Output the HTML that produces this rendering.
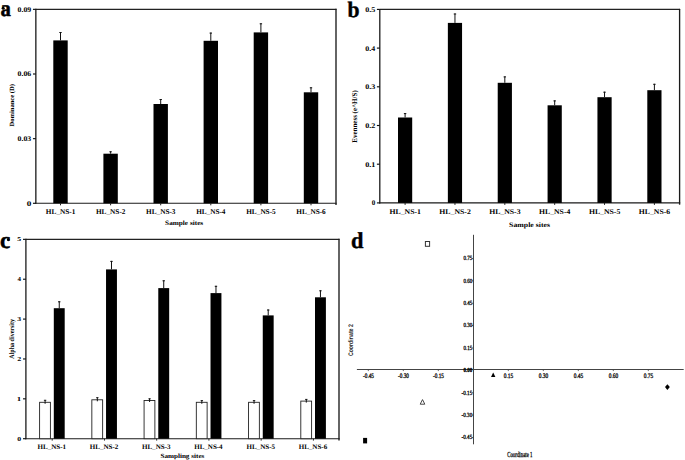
<!DOCTYPE html>
<html><head><meta charset="utf-8"><style>
html,body{margin:0;padding:0;background:#fff;width:685px;height:460px;overflow:hidden;}
svg{display:block;}
</style></head><body>
<svg width="685" height="460" viewBox="0 0 685 460">
<rect width="685" height="460" fill="#fff"/>
<line x1="35.85" y1="9.35" x2="336.50" y2="9.35" stroke="#222" stroke-width="1.1"/>
<line x1="336.00" y1="8.85" x2="336.00" y2="205.10" stroke="#1a1a1a" stroke-width="1.35"/>
<line x1="35.85" y1="8.85" x2="35.85" y2="203.80" stroke="#1a1a1a" stroke-width="1.3"/>
<line x1="35.25" y1="203.30" x2="336.60" y2="203.30" stroke="#1a1a1a" stroke-width="1.1"/>
<line x1="32.95" y1="203.30" x2="35.85" y2="203.30" stroke="#111" stroke-width="1.15"/>
<text x="26.75" y="205.70" font-size="7.22" font-weight="bold" font-family='"Liberation Serif", serif' textLength="4.60" lengthAdjust="spacingAndGlyphs" text-rendering="geometricPrecision" fill="#000">0</text>
<line x1="32.95" y1="138.65" x2="35.85" y2="138.65" stroke="#111" stroke-width="1.15"/>
<text x="17.60" y="141.05" font-size="7.22" font-weight="bold" font-family='"Liberation Serif", serif' textLength="13.66" lengthAdjust="spacingAndGlyphs" text-rendering="geometricPrecision" fill="#000">0.03</text>
<line x1="32.95" y1="74.00" x2="35.85" y2="74.00" stroke="#111" stroke-width="1.15"/>
<text x="17.60" y="76.40" font-size="7.22" font-weight="bold" font-family='"Liberation Serif", serif' textLength="13.62" lengthAdjust="spacingAndGlyphs" text-rendering="geometricPrecision" fill="#000">0.06</text>
<line x1="32.95" y1="9.35" x2="35.85" y2="9.35" stroke="#111" stroke-width="1.15"/>
<text x="17.60" y="11.75" font-size="7.22" font-weight="bold" font-family='"Liberation Serif", serif' textLength="13.68" lengthAdjust="spacingAndGlyphs" text-rendering="geometricPrecision" fill="#000">0.09</text>
<rect x="53.30" y="40.40" width="14.4" height="162.90" fill="#000"/>
<line x1="60.50" y1="32.00" x2="60.50" y2="40.40" stroke="#111" stroke-width="1.0"/>
<line x1="59.30" y1="32.50" x2="61.70" y2="32.50" stroke="#111" stroke-width="1.0"/>
<line x1="60.50" y1="203.30" x2="60.50" y2="205.30" stroke="#222" stroke-width="1.0"/>
<text x="45.83" y="213.90" font-size="7.40" font-weight="bold" font-family='"Liberation Serif", serif' textLength="29.60" lengthAdjust="spacingAndGlyphs" text-rendering="geometricPrecision" fill="#000">HL<tspan fill="#999">_</tspan>NS-1</text>
<rect x="103.40" y="153.70" width="14.4" height="49.60" fill="#000"/>
<line x1="110.60" y1="151.30" x2="110.60" y2="153.70" stroke="#111" stroke-width="1.0"/>
<line x1="109.40" y1="151.80" x2="111.80" y2="151.80" stroke="#111" stroke-width="1.0"/>
<line x1="110.60" y1="203.30" x2="110.60" y2="205.30" stroke="#222" stroke-width="1.0"/>
<text x="95.93" y="213.90" font-size="7.40" font-weight="bold" font-family='"Liberation Serif", serif' textLength="29.54" lengthAdjust="spacingAndGlyphs" text-rendering="geometricPrecision" fill="#000">HL<tspan fill="#999">_</tspan>NS-2</text>
<rect x="153.50" y="104.00" width="14.4" height="99.30" fill="#000"/>
<line x1="160.70" y1="99.00" x2="160.70" y2="104.00" stroke="#111" stroke-width="1.0"/>
<line x1="159.50" y1="99.50" x2="161.90" y2="99.50" stroke="#111" stroke-width="1.0"/>
<line x1="160.70" y1="203.30" x2="160.70" y2="205.30" stroke="#222" stroke-width="1.0"/>
<text x="146.03" y="213.90" font-size="7.40" font-weight="bold" font-family='"Liberation Serif", serif' textLength="29.47" lengthAdjust="spacingAndGlyphs" text-rendering="geometricPrecision" fill="#000">HL<tspan fill="#999">_</tspan>NS-3</text>
<rect x="203.60" y="40.80" width="14.4" height="162.50" fill="#000"/>
<line x1="210.80" y1="32.60" x2="210.80" y2="40.80" stroke="#111" stroke-width="1.0"/>
<line x1="209.60" y1="33.10" x2="212.00" y2="33.10" stroke="#111" stroke-width="1.0"/>
<line x1="210.80" y1="203.30" x2="210.80" y2="205.30" stroke="#222" stroke-width="1.0"/>
<text x="196.13" y="213.90" font-size="7.40" font-weight="bold" font-family='"Liberation Serif", serif' textLength="29.36" lengthAdjust="spacingAndGlyphs" text-rendering="geometricPrecision" fill="#000">HL<tspan fill="#999">_</tspan>NS-4</text>
<rect x="253.70" y="32.40" width="14.4" height="170.90" fill="#000"/>
<line x1="260.90" y1="23.30" x2="260.90" y2="32.40" stroke="#111" stroke-width="1.0"/>
<line x1="259.70" y1="23.80" x2="262.10" y2="23.80" stroke="#111" stroke-width="1.0"/>
<line x1="260.90" y1="203.30" x2="260.90" y2="205.30" stroke="#222" stroke-width="1.0"/>
<text x="246.23" y="213.90" font-size="7.40" font-weight="bold" font-family='"Liberation Serif", serif' textLength="29.49" lengthAdjust="spacingAndGlyphs" text-rendering="geometricPrecision" fill="#000">HL<tspan fill="#999">_</tspan>NS-5</text>
<rect x="303.80" y="92.30" width="14.4" height="111.00" fill="#000"/>
<line x1="311.00" y1="87.30" x2="311.00" y2="92.30" stroke="#111" stroke-width="1.0"/>
<line x1="309.80" y1="87.80" x2="312.20" y2="87.80" stroke="#111" stroke-width="1.0"/>
<line x1="311.00" y1="203.30" x2="311.00" y2="205.30" stroke="#222" stroke-width="1.0"/>
<text x="296.33" y="213.90" font-size="7.40" font-weight="bold" font-family='"Liberation Serif", serif' textLength="29.44" lengthAdjust="spacingAndGlyphs" text-rendering="geometricPrecision" fill="#000">HL<tspan fill="#999">_</tspan>NS-6</text>
<text x="165.11" y="224.70" font-size="6.63" font-weight="bold" font-family='"Liberation Serif", serif' textLength="38.06" lengthAdjust="spacingAndGlyphs" text-rendering="geometricPrecision" fill="#000">Sample sites</text>
<text x="0" y="0" font-size="6.49" font-weight="bold" font-family='"Liberation Serif", serif' textLength="42.61" lengthAdjust="spacingAndGlyphs" text-rendering="geometricPrecision" fill="#000" transform="translate(14.10 126.62) rotate(-90)">Dominance (D)</text>
<text x="0.53" y="16.30" font-size="23.02" font-weight="bold" font-family='"Liberation Serif", serif' textLength="10.38" lengthAdjust="spacingAndGlyphs" text-rendering="geometricPrecision" fill="#000" stroke="#000" stroke-width="0.5">a</text>
<circle cx="3.2" cy="8.3" r="1.55" fill="#000"/>
<line x1="379.80" y1="9.40" x2="680.10" y2="9.40" stroke="#222" stroke-width="1.1"/>
<line x1="679.60" y1="8.90" x2="679.60" y2="204.70" stroke="#1a1a1a" stroke-width="1.35"/>
<line x1="379.80" y1="8.90" x2="379.80" y2="203.40" stroke="#1a1a1a" stroke-width="1.3"/>
<line x1="379.20" y1="202.90" x2="680.20" y2="202.90" stroke="#1a1a1a" stroke-width="1.1"/>
<line x1="376.90" y1="202.90" x2="379.80" y2="202.90" stroke="#111" stroke-width="1.15"/>
<text x="371.73" y="205.30" font-size="7.22" font-weight="bold" font-family='"Liberation Serif", serif' textLength="3.54" lengthAdjust="spacingAndGlyphs" text-rendering="geometricPrecision" fill="#000">0</text>
<line x1="376.90" y1="164.20" x2="379.80" y2="164.20" stroke="#111" stroke-width="1.15"/>
<text x="365.19" y="166.60" font-size="7.22" font-weight="bold" font-family='"Liberation Serif", serif' textLength="10.24" lengthAdjust="spacingAndGlyphs" text-rendering="geometricPrecision" fill="#000">0.1</text>
<line x1="376.90" y1="125.50" x2="379.80" y2="125.50" stroke="#111" stroke-width="1.15"/>
<text x="365.19" y="127.90" font-size="7.22" font-weight="bold" font-family='"Liberation Serif", serif' textLength="10.16" lengthAdjust="spacingAndGlyphs" text-rendering="geometricPrecision" fill="#000">0.2</text>
<line x1="376.90" y1="86.80" x2="379.80" y2="86.80" stroke="#111" stroke-width="1.15"/>
<text x="365.19" y="89.20" font-size="7.22" font-weight="bold" font-family='"Liberation Serif", serif' textLength="10.08" lengthAdjust="spacingAndGlyphs" text-rendering="geometricPrecision" fill="#000">0.3</text>
<line x1="376.90" y1="48.10" x2="379.80" y2="48.10" stroke="#111" stroke-width="1.15"/>
<text x="365.20" y="50.50" font-size="7.22" font-weight="bold" font-family='"Liberation Serif", serif' textLength="9.95" lengthAdjust="spacingAndGlyphs" text-rendering="geometricPrecision" fill="#000">0.4</text>
<line x1="376.90" y1="9.40" x2="379.80" y2="9.40" stroke="#111" stroke-width="1.15"/>
<text x="365.19" y="11.80" font-size="7.22" font-weight="bold" font-family='"Liberation Serif", serif' textLength="10.10" lengthAdjust="spacingAndGlyphs" text-rendering="geometricPrecision" fill="#000">0.5</text>
<rect x="398.00" y="117.50" width="14.2" height="85.40" fill="#000"/>
<line x1="405.10" y1="113.10" x2="405.10" y2="117.50" stroke="#111" stroke-width="1.0"/>
<line x1="403.90" y1="113.60" x2="406.30" y2="113.60" stroke="#111" stroke-width="1.0"/>
<line x1="405.10" y1="202.90" x2="405.10" y2="204.90" stroke="#222" stroke-width="1.0"/>
<text x="389.47" y="213.70" font-size="7.25" font-weight="bold" font-family='"Liberation Serif", serif' textLength="31.54" lengthAdjust="spacingAndGlyphs" text-rendering="geometricPrecision" fill="#000">HL<tspan fill="#999">_</tspan>NS-1</text>
<rect x="447.86" y="22.90" width="14.2" height="180.00" fill="#000"/>
<line x1="454.96" y1="13.50" x2="454.96" y2="22.90" stroke="#111" stroke-width="1.0"/>
<line x1="453.76" y1="14.00" x2="456.16" y2="14.00" stroke="#111" stroke-width="1.0"/>
<line x1="454.96" y1="202.90" x2="454.96" y2="204.90" stroke="#222" stroke-width="1.0"/>
<text x="439.33" y="213.70" font-size="7.25" font-weight="bold" font-family='"Liberation Serif", serif' textLength="31.47" lengthAdjust="spacingAndGlyphs" text-rendering="geometricPrecision" fill="#000">HL<tspan fill="#999">_</tspan>NS-2</text>
<rect x="497.72" y="82.80" width="14.2" height="120.10" fill="#000"/>
<line x1="504.82" y1="76.40" x2="504.82" y2="82.80" stroke="#111" stroke-width="1.0"/>
<line x1="503.62" y1="76.90" x2="506.02" y2="76.90" stroke="#111" stroke-width="1.0"/>
<line x1="504.82" y1="202.90" x2="504.82" y2="204.90" stroke="#222" stroke-width="1.0"/>
<text x="489.19" y="213.70" font-size="7.25" font-weight="bold" font-family='"Liberation Serif", serif' textLength="31.40" lengthAdjust="spacingAndGlyphs" text-rendering="geometricPrecision" fill="#000">HL<tspan fill="#999">_</tspan>NS-3</text>
<rect x="547.58" y="105.30" width="14.2" height="97.60" fill="#000"/>
<line x1="554.68" y1="100.40" x2="554.68" y2="105.30" stroke="#111" stroke-width="1.0"/>
<line x1="553.48" y1="100.90" x2="555.88" y2="100.90" stroke="#111" stroke-width="1.0"/>
<line x1="554.68" y1="202.90" x2="554.68" y2="204.90" stroke="#222" stroke-width="1.0"/>
<text x="539.05" y="213.70" font-size="7.25" font-weight="bold" font-family='"Liberation Serif", serif' textLength="31.27" lengthAdjust="spacingAndGlyphs" text-rendering="geometricPrecision" fill="#000">HL<tspan fill="#999">_</tspan>NS-4</text>
<rect x="597.44" y="97.20" width="14.2" height="105.70" fill="#000"/>
<line x1="604.54" y1="91.70" x2="604.54" y2="97.20" stroke="#111" stroke-width="1.0"/>
<line x1="603.34" y1="92.20" x2="605.74" y2="92.20" stroke="#111" stroke-width="1.0"/>
<line x1="604.54" y1="202.90" x2="604.54" y2="204.90" stroke="#222" stroke-width="1.0"/>
<text x="588.91" y="213.70" font-size="7.25" font-weight="bold" font-family='"Liberation Serif", serif' textLength="31.42" lengthAdjust="spacingAndGlyphs" text-rendering="geometricPrecision" fill="#000">HL<tspan fill="#999">_</tspan>NS-5</text>
<rect x="647.30" y="90.20" width="14.2" height="112.70" fill="#000"/>
<line x1="654.40" y1="83.80" x2="654.40" y2="90.20" stroke="#111" stroke-width="1.0"/>
<line x1="653.20" y1="84.30" x2="655.60" y2="84.30" stroke="#111" stroke-width="1.0"/>
<line x1="654.40" y1="202.90" x2="654.40" y2="204.90" stroke="#222" stroke-width="1.0"/>
<text x="638.77" y="213.70" font-size="7.25" font-weight="bold" font-family='"Liberation Serif", serif' textLength="31.36" lengthAdjust="spacingAndGlyphs" text-rendering="geometricPrecision" fill="#000">HL<tspan fill="#999">_</tspan>NS-6</text>
<text x="509.08" y="226.50" font-size="6.77" font-weight="bold" font-family='"Liberation Serif", serif' textLength="41.01" lengthAdjust="spacingAndGlyphs" text-rendering="geometricPrecision" fill="#000">Sample sites</text>
<text x="0" y="0" font-size="7.21" font-weight="bold" font-family='"Liberation Serif", serif' textLength="52.43" lengthAdjust="spacingAndGlyphs" text-rendering="geometricPrecision" fill="#000" transform="translate(356.60 142.72) rotate(-90)">Evenness (e^H/S)</text>
<text x="347.52" y="16.50" font-size="22.20" font-weight="bold" font-family='"Liberation Serif", serif' textLength="12.05" lengthAdjust="spacingAndGlyphs" text-rendering="geometricPrecision" fill="#000" stroke="#000" stroke-width="0.4">b</text>
<line x1="25.90" y1="239.35" x2="339.50" y2="239.35" stroke="#222" stroke-width="1.1"/>
<line x1="339.00" y1="238.85" x2="339.00" y2="440.50" stroke="#1a1a1a" stroke-width="1.35"/>
<line x1="25.90" y1="238.85" x2="25.90" y2="439.20" stroke="#1a1a1a" stroke-width="1.3"/>
<line x1="25.30" y1="438.70" x2="339.60" y2="438.70" stroke="#1a1a1a" stroke-width="1.1"/>
<line x1="23.00" y1="438.70" x2="25.90" y2="438.70" stroke="#111" stroke-width="1.15"/>
<text x="17.30" y="440.70" font-size="6.01" font-weight="bold" font-family='"Liberation Serif", serif' textLength="3.89" lengthAdjust="spacingAndGlyphs" text-rendering="geometricPrecision" fill="#000">0</text>
<line x1="23.00" y1="398.83" x2="25.90" y2="398.83" stroke="#111" stroke-width="1.15"/>
<text x="16.88" y="400.83" font-size="6.06" font-weight="bold" font-family='"Liberation Serif", serif' textLength="4.48" lengthAdjust="spacingAndGlyphs" text-rendering="geometricPrecision" fill="#000">1</text>
<line x1="23.00" y1="358.96" x2="25.90" y2="358.96" stroke="#111" stroke-width="1.15"/>
<text x="17.27" y="360.96" font-size="6.04" font-weight="bold" font-family='"Liberation Serif", serif' textLength="3.98" lengthAdjust="spacingAndGlyphs" text-rendering="geometricPrecision" fill="#000">2</text>
<line x1="23.00" y1="319.09" x2="25.90" y2="319.09" stroke="#111" stroke-width="1.15"/>
<text x="17.31" y="321.09" font-size="6.04" font-weight="bold" font-family='"Liberation Serif", serif' textLength="3.85" lengthAdjust="spacingAndGlyphs" text-rendering="geometricPrecision" fill="#000">3</text>
<line x1="23.00" y1="279.22" x2="25.90" y2="279.22" stroke="#111" stroke-width="1.15"/>
<text x="17.50" y="281.22" font-size="6.08" font-weight="bold" font-family='"Liberation Serif", serif' textLength="3.53" lengthAdjust="spacingAndGlyphs" text-rendering="geometricPrecision" fill="#000">4</text>
<line x1="23.00" y1="239.35" x2="25.90" y2="239.35" stroke="#111" stroke-width="1.15"/>
<text x="17.29" y="241.35" font-size="6.11" font-weight="bold" font-family='"Liberation Serif", serif' textLength="3.90" lengthAdjust="spacingAndGlyphs" text-rendering="geometricPrecision" fill="#000">5</text>
<rect x="39.60" y="402.30" width="10.8" height="36.40" fill="#fff" stroke="#222" stroke-width="0.9"/>
<line x1="45.10" y1="399.90" x2="45.10" y2="403.80" stroke="#111" stroke-width="1.0"/>
<line x1="43.90" y1="400.30" x2="46.30" y2="400.30" stroke="#111" stroke-width="0.9"/>
<rect x="53.80" y="308.20" width="10.9" height="130.50" fill="#000"/>
<line x1="59.25" y1="301.30" x2="59.25" y2="308.20" stroke="#111" stroke-width="1.0"/>
<line x1="58.05" y1="301.80" x2="60.45" y2="301.80" stroke="#111" stroke-width="1.0"/>
<line x1="52.20" y1="438.70" x2="52.20" y2="440.60" stroke="#222" stroke-width="1.0"/>
<text x="37.48" y="449.00" font-size="6.95" font-weight="bold" font-family='"Liberation Serif", serif' textLength="28.69" lengthAdjust="spacingAndGlyphs" text-rendering="geometricPrecision" fill="#000">HL<tspan fill="#999">_</tspan>NS-1</text>
<rect x="91.84" y="399.80" width="10.8" height="38.90" fill="#fff" stroke="#222" stroke-width="0.9"/>
<line x1="97.34" y1="397.30" x2="97.34" y2="401.30" stroke="#111" stroke-width="1.0"/>
<line x1="96.14" y1="397.70" x2="98.54" y2="397.70" stroke="#111" stroke-width="0.9"/>
<rect x="106.04" y="269.40" width="10.9" height="169.30" fill="#000"/>
<line x1="111.49" y1="260.90" x2="111.49" y2="269.40" stroke="#111" stroke-width="1.0"/>
<line x1="110.29" y1="261.40" x2="112.69" y2="261.40" stroke="#111" stroke-width="1.0"/>
<line x1="104.44" y1="438.70" x2="104.44" y2="440.60" stroke="#222" stroke-width="1.0"/>
<text x="89.72" y="449.00" font-size="6.95" font-weight="bold" font-family='"Liberation Serif", serif' textLength="28.62" lengthAdjust="spacingAndGlyphs" text-rendering="geometricPrecision" fill="#000">HL<tspan fill="#999">_</tspan>NS-2</text>
<rect x="144.08" y="400.50" width="10.8" height="38.20" fill="#fff" stroke="#222" stroke-width="0.9"/>
<line x1="149.58" y1="398.40" x2="149.58" y2="402.00" stroke="#111" stroke-width="1.0"/>
<line x1="148.38" y1="398.80" x2="150.78" y2="398.80" stroke="#111" stroke-width="0.9"/>
<rect x="158.28" y="288.10" width="10.9" height="150.60" fill="#000"/>
<line x1="163.73" y1="280.30" x2="163.73" y2="288.10" stroke="#111" stroke-width="1.0"/>
<line x1="162.53" y1="280.80" x2="164.93" y2="280.80" stroke="#111" stroke-width="1.0"/>
<line x1="156.68" y1="438.70" x2="156.68" y2="440.60" stroke="#222" stroke-width="1.0"/>
<text x="141.96" y="449.00" font-size="6.95" font-weight="bold" font-family='"Liberation Serif", serif' textLength="28.56" lengthAdjust="spacingAndGlyphs" text-rendering="geometricPrecision" fill="#000">HL<tspan fill="#999">_</tspan>NS-3</text>
<rect x="196.32" y="402.30" width="10.8" height="36.40" fill="#fff" stroke="#222" stroke-width="0.9"/>
<line x1="201.82" y1="400.20" x2="201.82" y2="403.80" stroke="#111" stroke-width="1.0"/>
<line x1="200.62" y1="400.60" x2="203.02" y2="400.60" stroke="#111" stroke-width="0.9"/>
<rect x="210.52" y="293.10" width="10.9" height="145.60" fill="#000"/>
<line x1="215.97" y1="285.80" x2="215.97" y2="293.10" stroke="#111" stroke-width="1.0"/>
<line x1="214.77" y1="286.30" x2="217.17" y2="286.30" stroke="#111" stroke-width="1.0"/>
<line x1="208.92" y1="438.70" x2="208.92" y2="440.60" stroke="#222" stroke-width="1.0"/>
<text x="194.20" y="449.00" font-size="6.95" font-weight="bold" font-family='"Liberation Serif", serif' textLength="28.45" lengthAdjust="spacingAndGlyphs" text-rendering="geometricPrecision" fill="#000">HL<tspan fill="#999">_</tspan>NS-4</text>
<rect x="248.56" y="402.30" width="10.8" height="36.40" fill="#fff" stroke="#222" stroke-width="0.9"/>
<line x1="254.06" y1="400.20" x2="254.06" y2="403.80" stroke="#111" stroke-width="1.0"/>
<line x1="252.86" y1="400.60" x2="255.26" y2="400.60" stroke="#111" stroke-width="0.9"/>
<rect x="262.76" y="315.40" width="10.9" height="123.30" fill="#000"/>
<line x1="268.21" y1="309.50" x2="268.21" y2="315.40" stroke="#111" stroke-width="1.0"/>
<line x1="267.01" y1="310.00" x2="269.41" y2="310.00" stroke="#111" stroke-width="1.0"/>
<line x1="261.16" y1="438.70" x2="261.16" y2="440.60" stroke="#222" stroke-width="1.0"/>
<text x="246.44" y="449.00" font-size="6.95" font-weight="bold" font-family='"Liberation Serif", serif' textLength="28.58" lengthAdjust="spacingAndGlyphs" text-rendering="geometricPrecision" fill="#000">HL<tspan fill="#999">_</tspan>NS-5</text>
<rect x="300.80" y="401.10" width="10.8" height="37.60" fill="#fff" stroke="#222" stroke-width="0.9"/>
<line x1="306.30" y1="399.00" x2="306.30" y2="402.60" stroke="#111" stroke-width="1.0"/>
<line x1="305.10" y1="399.40" x2="307.50" y2="399.40" stroke="#111" stroke-width="0.9"/>
<rect x="315.00" y="297.30" width="10.9" height="141.40" fill="#000"/>
<line x1="320.45" y1="290.30" x2="320.45" y2="297.30" stroke="#111" stroke-width="1.0"/>
<line x1="319.25" y1="290.80" x2="321.65" y2="290.80" stroke="#111" stroke-width="1.0"/>
<line x1="313.40" y1="438.70" x2="313.40" y2="440.60" stroke="#222" stroke-width="1.0"/>
<text x="298.68" y="449.00" font-size="6.95" font-weight="bold" font-family='"Liberation Serif", serif' textLength="28.53" lengthAdjust="spacingAndGlyphs" text-rendering="geometricPrecision" fill="#000">HL<tspan fill="#999">_</tspan>NS-6</text>
<text x="160.42" y="457.50" font-size="6.34" font-weight="bold" font-family='"Liberation Serif", serif' textLength="43.96" lengthAdjust="spacingAndGlyphs" text-rendering="geometricPrecision" fill="#000">Sampling sites</text>
<text x="0" y="0" font-size="6.92" font-weight="bold" font-family='"Liberation Serif", serif' textLength="39.72" lengthAdjust="spacingAndGlyphs" text-rendering="geometricPrecision" fill="#000" transform="translate(14.10 358.66) rotate(-90)">Alpha diversity</text>
<text x="0.11" y="248.20" font-size="23.56" font-weight="bold" font-family='"Liberation Serif", serif' textLength="10.27" lengthAdjust="spacingAndGlyphs" text-rendering="geometricPrecision" fill="#000" stroke="#000" stroke-width="0.5">c</text>
<circle cx="8.3" cy="239.7" r="1.45" fill="#000"/>
<line x1="473.50" y1="234.80" x2="473.50" y2="444.30" stroke="#444" stroke-width="1.0"/>
<line x1="356.90" y1="369.50" x2="683.70" y2="369.50" stroke="#444" stroke-width="1.0"/>
<line x1="368.30" y1="369.50" x2="368.30" y2="371.10" stroke="#444" stroke-width="0.8"/>
<text x="363.06" y="377.80" font-size="6.77" font-weight="normal" font-family='"Liberation Serif", serif' textLength="10.90" lengthAdjust="spacingAndGlyphs" text-rendering="geometricPrecision" fill="#000" stroke="#000" stroke-width="0.3">-0.45</text>
<line x1="471.90" y1="437.43" x2="473.50" y2="437.43" stroke="#444" stroke-width="0.8"/>
<text x="461.61" y="439.32" font-size="6.32" font-weight="normal" font-family='"Liberation Serif", serif' textLength="10.59" lengthAdjust="spacingAndGlyphs" text-rendering="geometricPrecision" fill="#000" stroke="#000" stroke-width="0.3">-0.45</text>
<line x1="403.30" y1="369.50" x2="403.30" y2="371.10" stroke="#444" stroke-width="0.8"/>
<text x="398.06" y="377.80" font-size="6.77" font-weight="normal" font-family='"Liberation Serif", serif' textLength="10.89" lengthAdjust="spacingAndGlyphs" text-rendering="geometricPrecision" fill="#000" stroke="#000" stroke-width="0.3">-0.30</text>
<line x1="471.90" y1="415.05" x2="473.50" y2="415.05" stroke="#444" stroke-width="0.8"/>
<text x="461.61" y="416.95" font-size="6.32" font-weight="normal" font-family='"Liberation Serif", serif' textLength="10.58" lengthAdjust="spacingAndGlyphs" text-rendering="geometricPrecision" fill="#000" stroke="#000" stroke-width="0.3">-0.30</text>
<line x1="438.30" y1="369.50" x2="438.30" y2="371.10" stroke="#444" stroke-width="0.8"/>
<text x="433.06" y="377.80" font-size="6.77" font-weight="normal" font-family='"Liberation Serif", serif' textLength="10.90" lengthAdjust="spacingAndGlyphs" text-rendering="geometricPrecision" fill="#000" stroke="#000" stroke-width="0.3">-0.15</text>
<line x1="471.90" y1="392.68" x2="473.50" y2="392.68" stroke="#444" stroke-width="0.8"/>
<text x="461.61" y="394.57" font-size="6.32" font-weight="normal" font-family='"Liberation Serif", serif' textLength="10.59" lengthAdjust="spacingAndGlyphs" text-rendering="geometricPrecision" fill="#000" stroke="#000" stroke-width="0.3">-0.15</text>
<text x="463.41" y="372.20" font-size="6.32" font-weight="bold" font-family='"Liberation Serif", serif' textLength="8.78" lengthAdjust="spacingAndGlyphs" text-rendering="geometricPrecision" fill="#000" stroke="#000" stroke-width="0.3">0.00</text>
<line x1="508.30" y1="369.50" x2="508.30" y2="371.10" stroke="#444" stroke-width="0.8"/>
<text x="503.80" y="377.80" font-size="6.77" font-weight="normal" font-family='"Liberation Serif", serif' textLength="9.42" lengthAdjust="spacingAndGlyphs" text-rendering="geometricPrecision" fill="#000" stroke="#000" stroke-width="0.3">0.15</text>
<line x1="471.90" y1="347.93" x2="473.50" y2="347.93" stroke="#444" stroke-width="0.8"/>
<text x="463.41" y="349.82" font-size="6.32" font-weight="normal" font-family='"Liberation Serif", serif' textLength="8.79" lengthAdjust="spacingAndGlyphs" text-rendering="geometricPrecision" fill="#000" stroke="#000" stroke-width="0.3">0.15</text>
<line x1="543.30" y1="369.50" x2="543.30" y2="371.10" stroke="#444" stroke-width="0.8"/>
<text x="538.80" y="377.80" font-size="6.77" font-weight="normal" font-family='"Liberation Serif", serif' textLength="9.41" lengthAdjust="spacingAndGlyphs" text-rendering="geometricPrecision" fill="#000" stroke="#000" stroke-width="0.3">0.30</text>
<line x1="471.90" y1="325.55" x2="473.50" y2="325.55" stroke="#444" stroke-width="0.8"/>
<text x="463.41" y="327.45" font-size="6.32" font-weight="normal" font-family='"Liberation Serif", serif' textLength="8.78" lengthAdjust="spacingAndGlyphs" text-rendering="geometricPrecision" fill="#000" stroke="#000" stroke-width="0.3">0.30</text>
<line x1="578.30" y1="369.50" x2="578.30" y2="371.10" stroke="#444" stroke-width="0.8"/>
<text x="573.80" y="377.80" font-size="6.77" font-weight="normal" font-family='"Liberation Serif", serif' textLength="9.42" lengthAdjust="spacingAndGlyphs" text-rendering="geometricPrecision" fill="#000" stroke="#000" stroke-width="0.3">0.45</text>
<line x1="471.90" y1="303.18" x2="473.50" y2="303.18" stroke="#444" stroke-width="0.8"/>
<text x="463.41" y="305.07" font-size="6.32" font-weight="normal" font-family='"Liberation Serif", serif' textLength="8.79" lengthAdjust="spacingAndGlyphs" text-rendering="geometricPrecision" fill="#000" stroke="#000" stroke-width="0.3">0.45</text>
<line x1="613.30" y1="369.50" x2="613.30" y2="371.10" stroke="#444" stroke-width="0.8"/>
<text x="608.80" y="377.80" font-size="6.77" font-weight="normal" font-family='"Liberation Serif", serif' textLength="9.41" lengthAdjust="spacingAndGlyphs" text-rendering="geometricPrecision" fill="#000" stroke="#000" stroke-width="0.3">0.60</text>
<line x1="471.90" y1="280.80" x2="473.50" y2="280.80" stroke="#444" stroke-width="0.8"/>
<text x="463.41" y="282.70" font-size="6.32" font-weight="normal" font-family='"Liberation Serif", serif' textLength="8.78" lengthAdjust="spacingAndGlyphs" text-rendering="geometricPrecision" fill="#000" stroke="#000" stroke-width="0.3">0.60</text>
<line x1="648.30" y1="369.50" x2="648.30" y2="371.10" stroke="#444" stroke-width="0.8"/>
<text x="643.80" y="377.80" font-size="6.77" font-weight="normal" font-family='"Liberation Serif", serif' textLength="9.42" lengthAdjust="spacingAndGlyphs" text-rendering="geometricPrecision" fill="#000" stroke="#000" stroke-width="0.3">0.75</text>
<line x1="471.90" y1="258.43" x2="473.50" y2="258.43" stroke="#444" stroke-width="0.8"/>
<text x="463.41" y="260.32" font-size="6.32" font-weight="normal" font-family='"Liberation Serif", serif' textLength="8.79" lengthAdjust="spacingAndGlyphs" text-rendering="geometricPrecision" fill="#000" stroke="#000" stroke-width="0.3">0.75</text>
<rect x="425.4" y="241.5" width="4.2" height="4.8" fill="none" stroke="#333" stroke-width="1"/>
<rect x="363.1" y="437.9" width="4.0" height="5.5" fill="#000"/>
<polygon points="493.2,372.5 495.4,376.9 491.0,376.9" fill="#000"/>
<polygon points="422.5,399.6 424.8,404.2 420.2,404.2" fill="none" stroke="#333" stroke-width="0.9"/>
<polygon points="667.4,384.3 669.8,387.1 667.4,390 665.0,387.1" fill="#000"/>
<text x="507.20" y="456.90" font-size="7.64" font-weight="normal" font-family='"Liberation Serif", serif' textLength="25.29" lengthAdjust="spacingAndGlyphs" text-rendering="geometricPrecision" fill="#000" stroke="#000" stroke-width="0.3">Coordinate 1</text>
<text x="0" y="0" font-size="6.62" font-weight="bold" font-family='"Liberation Sans", sans-serif' textLength="32.02" lengthAdjust="spacingAndGlyphs" text-rendering="geometricPrecision" fill="#222" transform="translate(352.60 356.11) rotate(-90)">Coordinate 2</text>
<text x="351.09" y="247.90" font-size="22.77" font-weight="bold" font-family='"Liberation Serif", serif' textLength="12.46" lengthAdjust="spacingAndGlyphs" text-rendering="geometricPrecision" fill="#000" stroke="#000" stroke-width="0.4">d</text>
</svg>
</body></html>
